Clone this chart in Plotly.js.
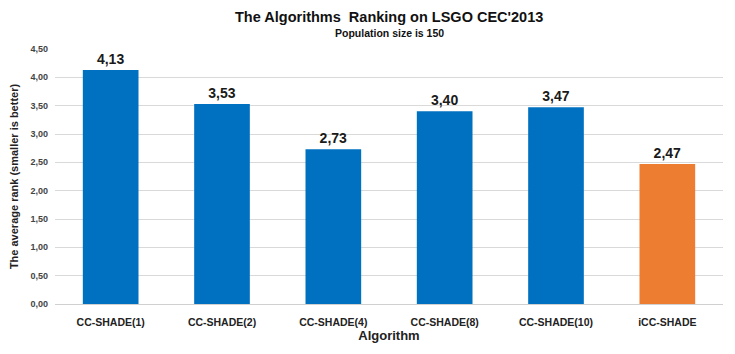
<!DOCTYPE html>
<html><head><meta charset="utf-8">
<script src="https://cdn.plot.ly/plotly-3.0.1.min.js"></script>
<style>html,body{margin:0;padding:0;background:#fff}#c{width:735px;height:354px}</style>
</head><body><div id="c"></div>
<script>
const categories = ["CC-SHADE(1)","CC-SHADE(2)","CC-SHADE(4)","CC-SHADE(8)","CC-SHADE(10)","iCC-SHADE"];
const ranks = [4.13, 3.53, 2.73, 3.40, 3.47, 2.47];
const barColors = ["#0070C0","#0070C0","#0070C0","#0070C0","#0070C0","#ED7D31"];
const yTickVals = [0,0.5,1,1.5,2,2.5,3,3.5,4,4.5];
const fmt = v => v.toFixed(2).replace('.', ',');
const FF = 'Arial, Liberation Sans, sans-serif';
const trace = {
  type: 'bar', x: categories, y: ranks,
  marker: {color: barColors},
  text: ranks.map(fmt), textposition: 'outside', cliponaxis: false,
  textfont: {family: FF, size: 14, color: '#1a1a1a', weight: 'bold'},
  hoverinfo: 'none'
};
const layout = {
  width: 735, height: 354,
  margin: {l: 55, r: 12, t: 49, b: 50},
  paper_bgcolor: '#fff', plot_bgcolor: '#fff',
  bargap: 0.5,
  showlegend: false,
  annotations: [
    {text: '<b>The Algorithms  Ranking on LSGO CEC\'2013</b>', xref: 'paper', yref: 'paper', x: 0.5, y: 1, yshift: 32,
     xanchor: 'center', yanchor: 'middle', showarrow: false, font: {family: FF, size: 14.5, color: '#111'}},
    {text: '<b>Population size is 150</b>', xref: 'paper', yref: 'paper', x: 0.5, y: 1, yshift: 16,
     xanchor: 'center', yanchor: 'middle', showarrow: false, font: {family: FF, size: 10.5, color: '#111'}}
  ],
  xaxis: {
    type: 'category',
    tickfont: {family: FF, size: 10.5, color: '#222', weight: 'bold'},
    ticklabelstandoff: 8,
    title: {text: '<b>Algorithm</b>', font: {family: FF, size: 13, color: '#222'}, standoff: 4},
    showline: true, linecolor: '#d0d0d0', linewidth: 1, ticks: '', showgrid: false
  },
  yaxis: {
    range: [0, 4.5], tickvals: yTickVals, ticktext: yTickVals.map(fmt),
    tickfont: {family: FF, size: 9, color: '#444', weight: 'bold'},
    ticklabelstandoff: 6,
    gridcolor: '#d9d9d9', gridwidth: 1, zeroline: false, showline: false,
    title: {text: '<b>The average rank (smaller is better)</b>', font: {family: FF, size: 11, color: '#222'}, standoff: 9}
  }
};
Plotly.newPlot('c', [trace], layout, {staticPlot: true, displayModeBar: false});
</script></body></html>
